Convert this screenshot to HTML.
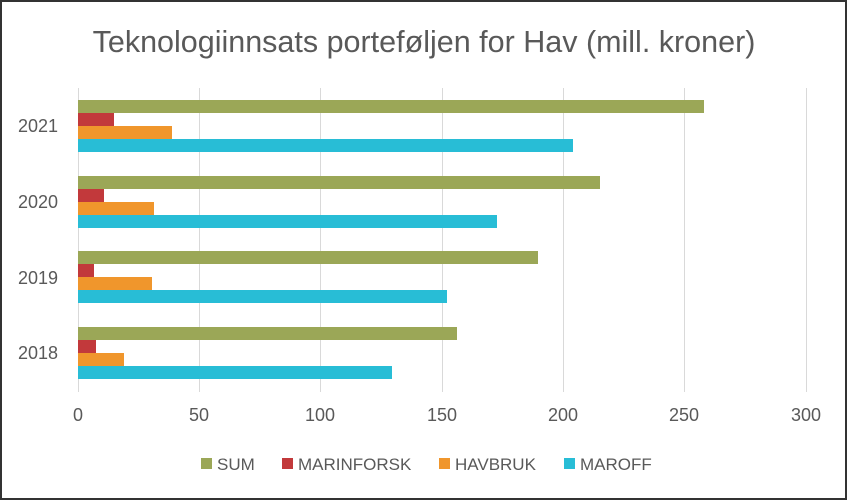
<!DOCTYPE html>
<html><head><meta charset="utf-8"><style>
body{margin:0;background:#fff;}
svg{display:block;font-family:"Liberation Sans",sans-serif;}
</style></head><body>
<svg width="847" height="500" viewBox="0 0 847 500">
<rect x="1" y="1" width="845" height="498" fill="#fff" stroke="#333" stroke-width="2"/>
<text x="424" y="52" text-anchor="middle" font-size="30.5" fill="#595959">Teknologiinnsats porteføljen for Hav (mill. kroner)</text>
<g stroke="#d9d9d9" stroke-width="1">
<line x1="78.5" y1="88" x2="78.5" y2="392"/>
<line x1="199.5" y1="88" x2="199.5" y2="392"/>
<line x1="320.5" y1="88" x2="320.5" y2="392"/>
<line x1="442.5" y1="88" x2="442.5" y2="392"/>
<line x1="563.5" y1="88" x2="563.5" y2="392"/>
<line x1="684.5" y1="88" x2="684.5" y2="392"/>
<line x1="806.5" y1="88" x2="806.5" y2="392"/>
</g>
<g>
<rect x="78" y="100" width="626" height="13" fill="#9BA757"/>
<rect x="78" y="113" width="36" height="13" fill="#C2393B"/>
<rect x="78" y="126" width="94" height="13" fill="#F0962C"/>
<rect x="78" y="139" width="495" height="13" fill="#28BDD6"/>
<rect x="78" y="176" width="522" height="13" fill="#9BA757"/>
<rect x="78" y="189" width="26" height="13" fill="#C2393B"/>
<rect x="78" y="202" width="76" height="13" fill="#F0962C"/>
<rect x="78" y="215" width="419" height="13" fill="#28BDD6"/>
<rect x="78" y="251" width="460" height="13" fill="#9BA757"/>
<rect x="78" y="264" width="16" height="13" fill="#C2393B"/>
<rect x="78" y="277" width="74" height="13" fill="#F0962C"/>
<rect x="78" y="290" width="369" height="13" fill="#28BDD6"/>
<rect x="78" y="327" width="379" height="13" fill="#9BA757"/>
<rect x="78" y="340" width="18" height="13" fill="#C2393B"/>
<rect x="78" y="353" width="46" height="13" fill="#F0962C"/>
<rect x="78" y="366" width="314" height="13" fill="#28BDD6"/>
</g>
<g font-size="18" fill="#595959" text-anchor="end">
<text x="58" y="132">2021</text>
<text x="58" y="208">2020</text>
<text x="58" y="284">2019</text>
<text x="58" y="359">2018</text>
</g>
<g font-size="18" fill="#595959" text-anchor="middle">
<text x="78" y="421">0</text>
<text x="199" y="421">50</text>
<text x="320" y="421">100</text>
<text x="442" y="421">150</text>
<text x="563" y="421">200</text>
<text x="684" y="421">250</text>
<text x="806" y="421">300</text>
</g>
<g font-size="17" fill="#595959">
<rect x="201" y="458" width="11" height="11" fill="#9BA757"/><text x="217" y="470">SUM</text>
<rect x="282" y="458" width="11" height="11" fill="#C2393B"/><text x="298" y="470">MARINFORSK</text>
<rect x="439" y="458" width="11" height="11" fill="#F0962C"/><text x="455" y="470">HAVBRUK</text>
<rect x="564" y="458" width="11" height="11" fill="#28BDD6"/><text x="580" y="470">MAROFF</text>
</g>
</svg>
</body></html>
